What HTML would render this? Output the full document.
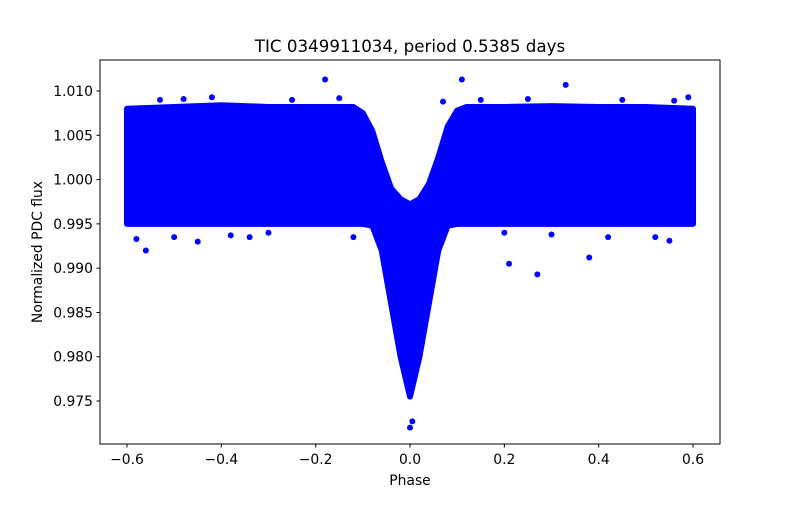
<!DOCTYPE html>
<html><head><meta charset="utf-8"><style>
body{margin:0;background:#fff}
svg{font-family:"DejaVu Sans","Liberation Sans",sans-serif}
</style></head><body>
<svg id="chart" width="800" height="500">
<text x="410" y="52" text-anchor="middle" font-size="16.7">TIC 0349911034, period 0.5385 days</text>
<g id="marks"></g>
<rect x="100" y="60" width="620" height="384" fill="none" stroke="#000" stroke-width="1"/>
<g id="axes"></g>
<text x="410" y="485" text-anchor="middle" font-size="13.9">Phase</text>
<text transform="translate(42,252) rotate(-90)" text-anchor="middle" font-size="13.9">Normalized PDC flux</text>
</svg>
<script>
const phaseBins=[-0.6,-0.5,-0.4,-0.3,-0.2,-0.12,-0.1,-0.08,-0.06,-0.04,-0.02,0,0.02,0.04,0.06,0.08,0.1,0.12,0.2,0.3,0.4,0.5,0.6];
const upperFlux=[1.0080,1.0082,1.0084,1.0082,1.0082,1.0082,1.0075,1.0055,1.0020,0.9990,0.9978,0.9972,0.9978,0.9995,1.0025,1.0060,1.0078,1.0082,1.0082,1.0083,1.0082,1.0082,1.0080];
const lowerFlux=[0.9950,0.9950,0.9950,0.9950,0.9950,0.9950,0.9950,0.9948,0.9920,0.9860,0.9800,0.9755,0.9800,0.9860,0.9920,0.9948,0.9950,0.9950,0.9950,0.9950,0.9950,0.9950,0.9950];
const outPhase=[-0.58,-0.56,-0.5,-0.34,0.0,0.005,0.21,0.27,0.11,-0.18,0.33,-0.12,0.52,0.55,0.38,-0.42,0.07,-0.45,0.45,0.59,-0.53,-0.25,-0.15,0.15,0.25,0.42,-0.38,0.3,-0.48,0.56,0.2,-0.3];
const outFlux=[0.9933,0.9920,0.9935,0.9935,0.9720,0.9727,0.9905,0.9893,1.0113,1.0113,1.0107,0.9935,0.9935,0.9931,0.9912,1.0093,1.0088,0.9930,1.0090,1.0093,1.0090,1.0090,1.0092,1.0090,1.0091,0.9935,0.9937,0.9938,1.0091,1.0089,0.9940,0.9940];
const xTicks=[-0.6,-0.4,-0.2,0.0,0.2,0.4,0.6];
const xTickLabels=["−0.6","−0.4","−0.2","0.0","0.2","0.4","0.6"];
const yTicks=[0.975,0.980,0.985,0.990,0.995,1.000,1.005,1.010];
const yTickLabels=["0.975","0.980","0.985","0.990","0.995","1.000","1.005","1.010"];
const X=p=>410+p*471.7;
const Y=f=>179.6-(f-1)*8857;
const NS="http://www.w3.org/2000/svg";
const marks=document.getElementById('marks'),axes=document.getElementById('axes');
let pts=phaseBins.map((p,i)=>X(p)+','+Y(upperFlux[i]));
for(let i=phaseBins.length-1;i>=0;i--)pts.push(X(phaseBins[i])+','+Y(lowerFlux[i]));
const poly=document.createElementNS(NS,'polygon');
poly.setAttribute('points',pts.join(' '));
poly.setAttribute('fill','#0000ff');poly.setAttribute('stroke','#0000ff');
poly.setAttribute('stroke-width','6');poly.setAttribute('stroke-linejoin','round');


marks.appendChild(poly);
outPhase.forEach((p,i)=>{const c=document.createElementNS(NS,'circle');
c.setAttribute('cx',X(p));c.setAttribute('cy',Y(outFlux[i]));c.setAttribute('r','3');c.setAttribute('fill','#0000ff');


marks.appendChild(c);});
xTicks.forEach((t,i)=>{const l=document.createElementNS(NS,'line');
l.setAttribute('x1',X(t));l.setAttribute('x2',X(t));l.setAttribute('y1',444);l.setAttribute('y2',447.5);l.setAttribute('stroke','#000');


axes.appendChild(l);
const tx=document.createElementNS(NS,'text');tx.setAttribute('x',X(t));tx.setAttribute('y',464);tx.setAttribute('text-anchor','middle');tx.setAttribute('font-size','13.9');tx.textContent=xTickLabels[i];


axes.appendChild(tx);});
yTicks.forEach((t,i)=>{const l=document.createElementNS(NS,'line');
l.setAttribute('x1',96.5);l.setAttribute('x2',100);l.setAttribute('y1',Y(t));l.setAttribute('y2',Y(t));l.setAttribute('stroke','#000');


axes.appendChild(l);
const tx=document.createElementNS(NS,'text');tx.setAttribute('x',93);tx.setAttribute('y',Y(t)+5);tx.setAttribute('text-anchor','end');tx.setAttribute('font-size','13.9');tx.textContent=yTickLabels[i];


axes.appendChild(tx);});
</script>
</body></html>
